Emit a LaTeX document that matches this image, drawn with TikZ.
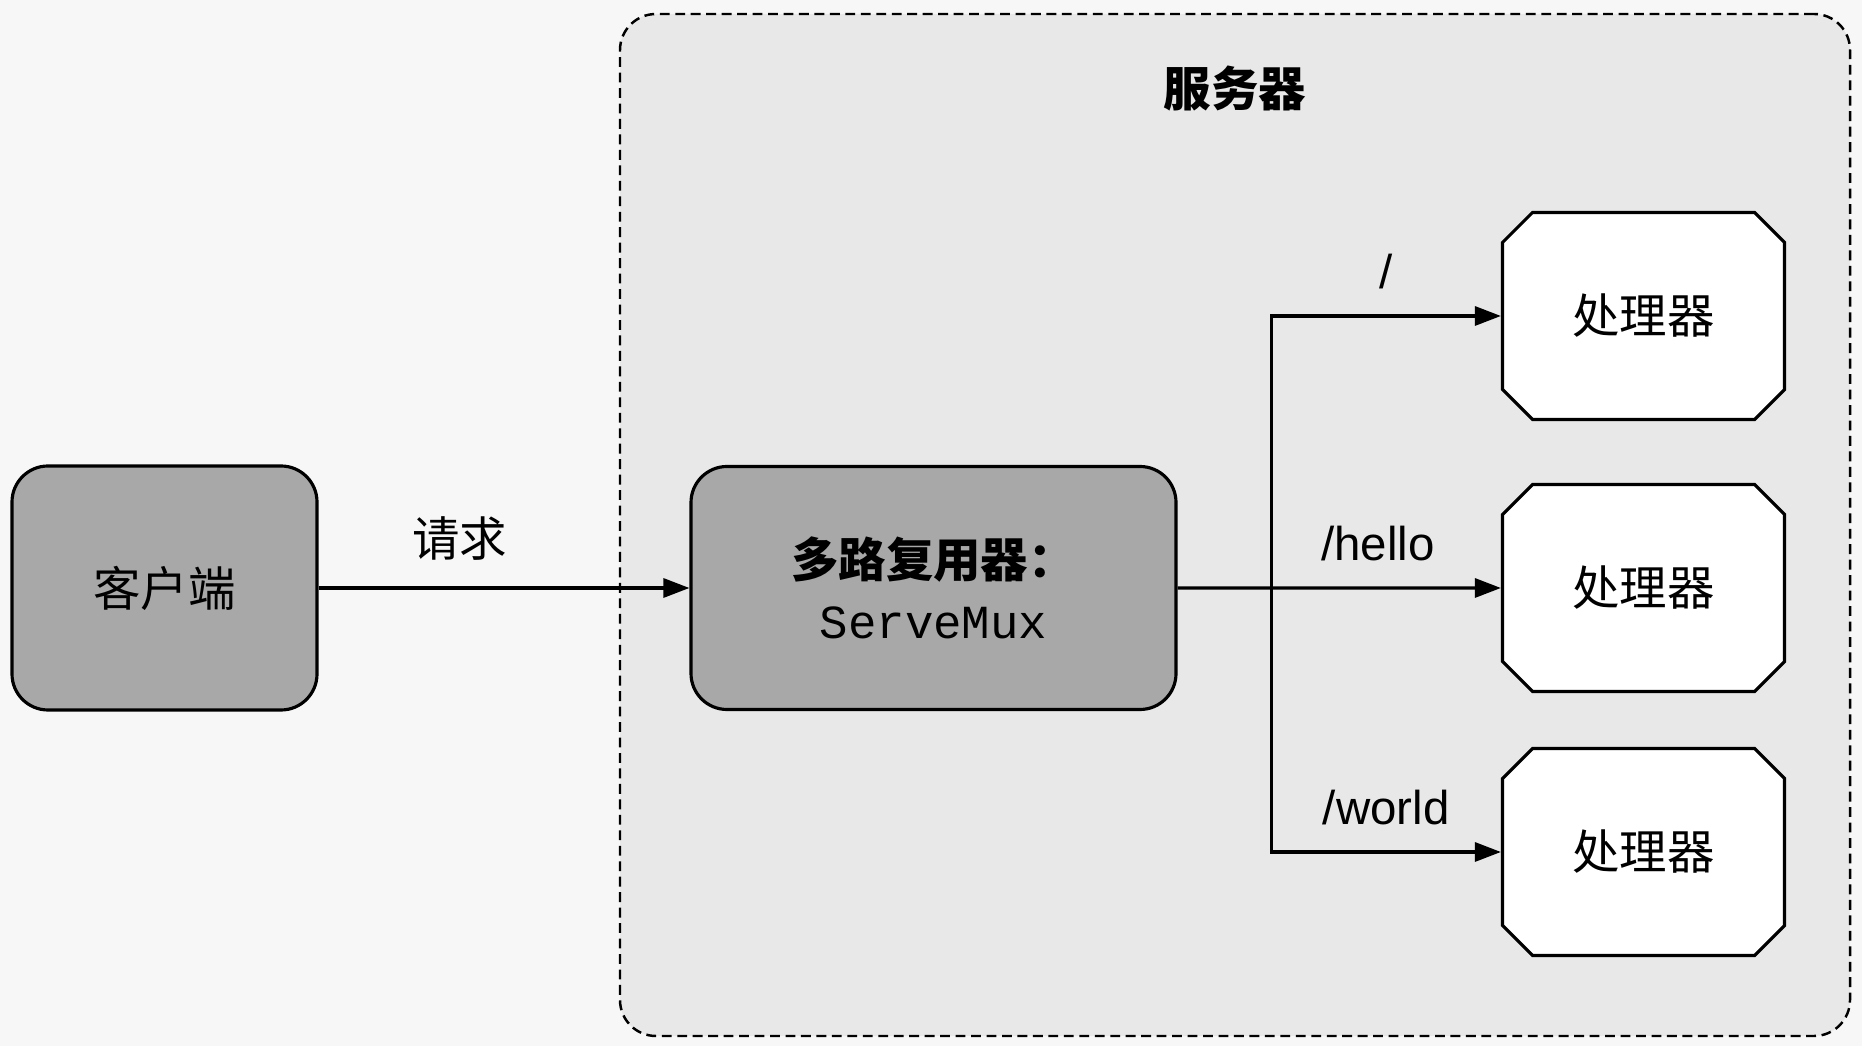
\documentclass[tikz,border=0pt]{standalone}
\usepackage{fontspec}
\setmainfont{Liberation Sans}
\setmonofont{Liberation Mono}
\newfontfamily\cjk{Noto Sans CJK SC}
\usepackage{tikz}
\usetikzlibrary{shapes.misc, arrows.meta}
\definecolor{boxgray}{rgb}{0.66, 0.66, 0.66}
\definecolor{servergray}{rgb}{0.91, 0.91, 0.91}
\definecolor{paper}{rgb}{0.97, 0.97, 0.97}
\tikzstyle{graybox} = [rectangle,rounded corners=.36cm,draw,fill=boxgray,line width=.9pt,text centered]
\tikzstyle{handler} = [chamfered rectangle,chamfered rectangle xsep=.15cm,chamfered rectangle ysep=.15cm,draw,fill=white,line width=.9pt,minimum width=2.82cm,minimum height=2.07cm]
\tikzstyle{server} = [rectangle,rounded corners=.36cm,draw,dash pattern=on 2.8pt off 1.6pt,fill=servergray,line width=.7pt,minimum width=12.3cm,minimum height=10.22cm]
\tikzstyle{route} = [-{Triangle[length=.26cm,width=.19cm]},line width=.9pt]

\begin{document}
\begin{tikzpicture}[every node/.style={font=\fontsize{13.5}{17.5}\selectfont}]
			\fill[paper](0,0) rectangle (18.62,-10.46);
			\useasboundingbox (0,0) rectangle (18.62,-10.46);
			\node [server](s) at (12.35,-5.25){};
			\node (slabel) at (12.35,-.89){\cjk\bfseries 服务器};
			\node [graybox,minimum width=3.05cm,minimum height=2.44cm](c) at (1.645,-5.88){\cjk 客户端};
			\node [graybox,right of=c,xshift=6.69cm,minimum width=4.85cm,minimum height=2.43cm,align=center](m){{\cjk\bfseries 多路复用器：}\\\texttt{ServeMux}};
			\node [handler,right of=m,xshift=6.1cm](h2){\cjk 处理器};
			\node [handler,above of=h2,yshift=1.72cm](h1){\cjk 处理器};
			\node [handler,below of=h2,yshift=-1.64cm](h3){\cjk 处理器};
			\coordinate [right of=m,xshift=2.38cm](split);

			\draw[route](c)--node[above,pos=.38,yshift=.14cm]{\cjk 请求}(m);
			\draw[route](m)--node[above,pos=.62,yshift=.14cm]{/hello}(h2);
			\draw[route](split)|-node[above,pos=.75,yshift=.14cm]{/}(h1);
			\draw[route](split)|-node[above,pos=.75,yshift=.14cm]{/world}(h3);
			\end{tikzpicture}
\end{document}
